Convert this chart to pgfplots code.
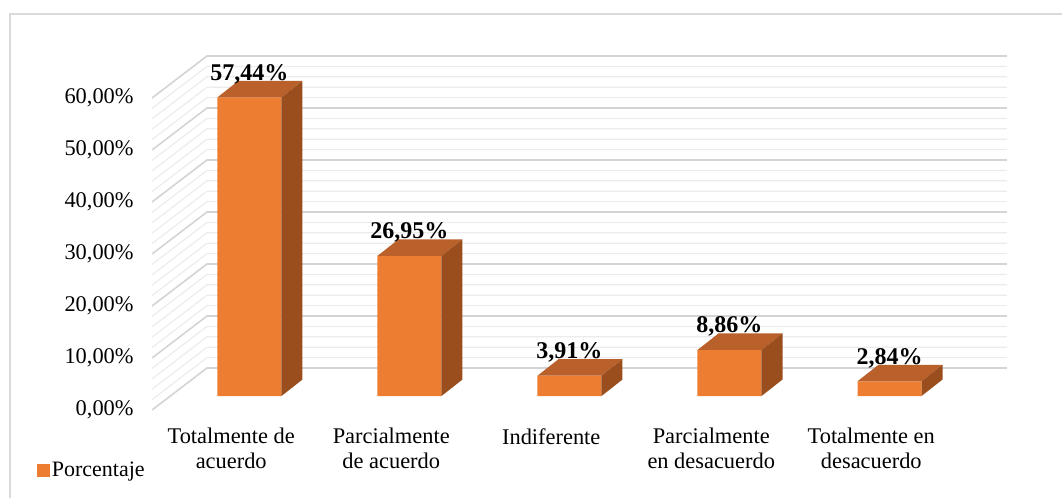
\documentclass[border=0pt]{standalone}
\usepackage{pgfplots}
\pgfplotsset{compat=1.18}
\usepackage{pgfplotstable}
\usepackage{fontspec}
\setmainfont{Liberation Serif}
\definecolor{barfront}{HTML}{ED7D31}
\definecolor{bartop}{HTML}{BA602A}
\definecolor{barside}{HTML}{9A4E1E}
\definecolor{gridmaj}{HTML}{D4D4D4}
\definecolor{gridmin}{HTML}{ECECEC}
\definecolor{framecol}{HTML}{D9D9D9}

\pgfplotstableread{
x v
0 57.44
1 26.95
2 3.91
3 8.86
4 2.84
}\datatable

\pgfplotstableread{
x y
-0.609 -2.692
-0.2656 5.385
4.734 5.385
}\gridpath

% top and side face of a 3D bar, drawn at the top-front-centre of the bar
\pgfdeclareplotmark{cube3d}{%
  \pgfpathmoveto{\pgfpoint{-16bp}{0bp}}%
  \pgfpathlineto{\pgfpoint{16bp}{0bp}}%
  \pgfpathlineto{\pgfpoint{26.5bp}{8.25bp}}%
  \pgfpathlineto{\pgfpoint{-5.5bp}{8.25bp}}%
  \pgfpathclose
  \pgfsetfillcolor{bartop}%
  \pgfusepath{fill}%
  \pgfpathmoveto{\pgfpoint{16bp}{0bp}}%
  \pgfpathlineto{\pgfpoint{26.5bp}{8.25bp}}%
  \pgfpathlineto{\pgfpoint{26.5bp}{8.25bp-\barval*2.6bp}}%
  \pgfpathlineto{\pgfpoint{16bp}{-\barval*2.6bp}}%
  \pgfpathclose
  \pgfsetfillcolor{barside}%
  \pgfusepath{fill}%
}
\pgfdeclareplotmark{nomark}{}

\begin{document}
\begin{tikzpicture}
\begin{axis}[
  x=80bp, y=2.6bp,
  xmin=-0.609, xmax=4.734, ymin=-2.692, ymax=65.385,
  clip=false,
  /pgf/number format/assume math mode=true,
  axis line style={draw=none},
  tick style={draw=none},
  major tick length=0pt,
  xtick={-0.114,0.886,1.886,2.886,3.886},
  xticklabels={{Totalmente de\\acuerdo},{Parcialmente\\de acuerdo},{Indiferente},{Parcialmente\\en desacuerdo},{Totalmente en\\desacuerdo}},
  xticklabel style={anchor=north, align=center, inner sep=0pt, yshift=-9bp, font=\fontsize{11.2bp}{12.5bp}\selectfont},
  ytick={-2.692,7.308,17.308,27.308,37.308,47.308,57.308},
  yticklabels={{0,00\%},{10,00\%},{20,00\%},{30,00\%},{40,00\%},{50,00\%},{60,00\%}},
  yticklabel style={anchor=east, inner sep=0pt, xshift=-9bp, font=\fontsize{11.2bp}{12.5bp}\selectfont},
  legend style={at={(axis description cs:-0.1345,-0.1709)}, anchor=west, draw=none, fill=none, inner sep=0pt,
    font=\fontsize{11bp}{13bp}\selectfont, nodes={inner sep=1bp}},
  legend image code/.code={\fill[barfront] (0bp,-3.2bp) rectangle (6.2bp,3.2bp);},
]
% minor gridlines (back and side wall)
\pgfplotsinvokeforeach{2,4,6,8,12,14,16,18,22,24,26,28,32,34,36,38,42,44,46,48,52,54,56,58}{
  \addplot[gridmin, line width=0.6bp, forget plot] table[x=x, y expr=\thisrow{y}+#1] {\gridpath};
}
% major gridlines
\pgfplotsinvokeforeach{0,10,20,30,40,50,60}{
  \addplot[gridmaj, line width=0.8bp, forget plot] table[x=x, y expr=\thisrow{y}+#1] {\gridpath};
}
% front faces of the bars
\addplot[ybar, bar width=32bp, fill=barfront, draw=none] table[x=x, y=v] {\datatable};
\addlegendentry{Porcentaje}
% top and side faces
\addplot[
  only marks, mark=cube3d, forget plot,
  visualization depends on={\thisrow{v} \as \barval},
  mark options={draw=none},
] table[x=x, y=v] {\datatable};
% value labels on top
\addplot[
  only marks, mark=nomark, forget plot,
  point meta=explicit,
  nodes near coords={\pgfmathprintnumber[fixed,fixed zerofill,precision=2,use comma]{\pgfplotspointmeta}\%},
  every node near coord/.append style={anchor=base, yshift=8.6bp, inner sep=0pt, text=black,
    font=\bfseries\fontsize{12bp}{14bp}\selectfont},
] table[x=x, y=v, meta=v] {\datatable};
% chart frame and page box
\draw[framecol, line width=1bp] (axis cs:-1.497,-25) |- (axis cs:5.3,73.46);
\coordinate (bbll) at (axis cs:-1.559,-19.423);
\coordinate (bbur) at (axis cs:5.0781,76.154);
\end{axis}
\pgfresetboundingbox
\useasboundingbox (bbll) rectangle (bbur);
\end{tikzpicture}
\end{document}
